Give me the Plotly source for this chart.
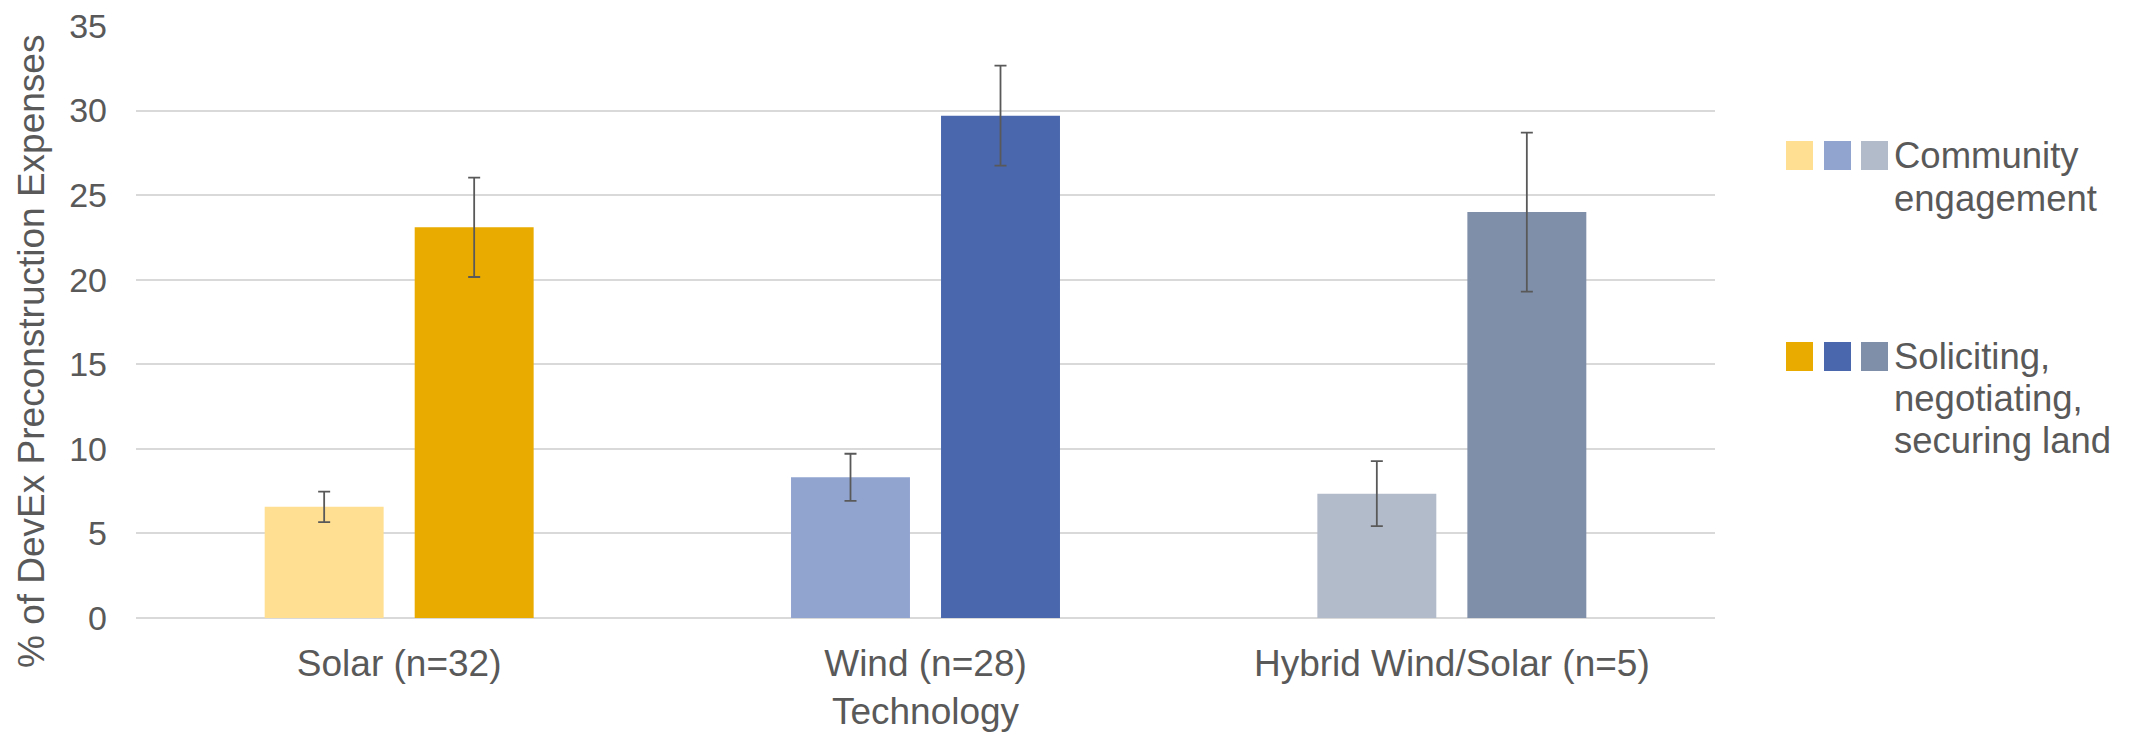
import plotly.graph_objects as go

# Data
technologies = ["Solar (n=32)", "Wind (n=28)", "Hybrid Wind/Solar (n=5)"]
community_engagement = [6.57, 8.32, 7.35]
community_error = [0.90, 1.39, 1.92]
securing_land = [23.1, 29.7, 24.0]
securing_land_error = [2.94, 2.96, 4.70]

community_colors = ["#FFDF91", "#91A4D0", "#B2BBCA"]
land_colors = ["#E9AB00", "#4A67AE", "#7F8FA9"]

legend_labels = [
    ["Community", "engagement"],
    ["Soliciting,", "negotiating,", "securing land"],
]
y_title = "% of DevEx Preconstruction Expenses"
x_title = "Technology"

W, H = 2131, 733
M_L, M_R, M_T, M_B = 136, 416, 26, 115
TEXT = "#595959"
FONT = "Liberation Sans, Arial, sans-serif"

fig = go.Figure()
fig.add_trace(go.Bar(
    x=technologies, y=community_engagement, name="Community engagement",
    marker=dict(color=community_colors, line=dict(width=0)),
    error_y=dict(type="data", array=community_error, visible=True,
                 color=TEXT, thickness=1.8, width=6),
    showlegend=False,
))
fig.add_trace(go.Bar(
    x=technologies, y=securing_land, name="Soliciting, negotiating, securing land",
    marker=dict(color=land_colors, line=dict(width=0)),
    error_y=dict(type="data", array=securing_land_error, visible=True,
                 color=TEXT, thickness=1.8, width=6),
    showlegend=False,
))

plot_w = W - M_L - M_R
plot_h = H - M_T - M_B


def px(xp):
    return (xp - M_L) / plot_w


def py(yp):
    return (H - M_B - yp) / plot_h


# Hand-built legend: three colour swatches per series followed by wrapped text
shapes = []
annotations = []
swatch_x = [(1786, 1813), (1824, 1851), (1861, 1888)]
row_tops = [141, 342]
for colors, top in zip([community_colors, land_colors], row_tops):
    for (x0, x1), c in zip(swatch_x, colors):
        shapes.append(dict(type="rect", xref="paper", yref="paper",
                           x0=px(x0), x1=px(x1), y0=py(top + 29), y1=py(top),
                           fillcolor=c, line=dict(width=0), layer="above"))

line_baselines = [[168, 211], [369, 411, 453]]
for lines, bases in zip(legend_labels, line_baselines):
    for text, base in zip(lines, bases):
        annotations.append(dict(
            text=text, xref="paper", yref="paper", x=px(1892), y=py(base - 12.5),
            xanchor="left", yanchor="middle", showarrow=False, align="left",
            font=dict(family=FONT, size=36.5, color=TEXT),
        ))

# Vertical axis title, centred a little below the plot-area middle
annotations.append(dict(
    text=y_title, xref="paper", yref="paper", x=px(31), y=py(352),
    xanchor="center", yanchor="middle", textangle=-90, showarrow=False,
    font=dict(family=FONT, size=37, color=TEXT),
))

fig.update_layout(
    width=W, height=H,
    margin=dict(l=M_L, r=M_R, t=M_T, b=M_B, pad=0),
    paper_bgcolor="white", plot_bgcolor="white",
    barmode="group", bargap=0.43, bargroupgap=0.207,
    font=dict(family=FONT, size=34, color=TEXT),
    shapes=shapes, annotations=annotations,
    xaxis=dict(
        title=dict(text=x_title, font=dict(size=37, color=TEXT), standoff=15),
        tickfont=dict(size=37, color=TEXT),
        showgrid=False, showline=False, zeroline=False,
        ticks="", ticklabelstandoff=20, automargin=False,
    ),
    yaxis=dict(
        tickfont=dict(size=34, color=TEXT),
        range=[0, 35], tickmode="linear", tick0=0, dtick=5,
        showgrid=True, gridcolor="#D9D9D9", gridwidth=1.6,
        zeroline=True, zerolinecolor="#D9D9D9", zerolinewidth=1.6,
        showline=False, ticks="", ticklabelstandoff=28, automargin=False,
    ),
)

fig.write_html("out.html")
